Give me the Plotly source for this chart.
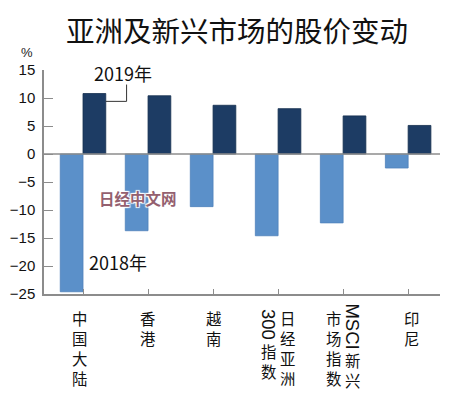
import plotly.graph_objects as go

# ---- data ----
categories = ["中国大陆", "香港", "越南", "日经亚洲300指数", "MSCI新兴市场指数", "印尼"]
values_2018 = [-24.6, -13.7, -9.4, -14.6, -12.3, -2.5]
values_2019 = [10.8, 10.4, 8.7, 8.1, 6.8, 5.1]
series_names = ["2018年", "2019年"]
# vertical label columns (left to right) for each category
label_columns = [["中国大陆"], ["香港"], ["越南"], ["300指数", "日经亚洲"], ["市场指数", "MSCI新兴"], ["印尼"]]
y_ticks = [-25, -20, -15, -10, -5, 0, 5, 10, 15]
title_text = "亚洲及新兴市场的股价变动"
unit_text = "%"
watermark = "日经中文网"

W, H = 450, 394
ML, MR, MT, MB = 44, 10, 70, 100
PLOT_W = W - ML - MR
PLOT_H = H - MT - MB

def py(ypx):
    return (H - MB - ypx) / PLOT_H

def pxx(xpx):
    return (xpx - ML) / PLOT_W

CJK = "Noto Sans CJK SC, Noto Sans, sans-serif"
NUM = "Liberation Sans Narrow, Arial Narrow, Liberation Sans, Arial, sans-serif"
DARK = "#1d3c64"
LIGHT = "#5b90c9"
AXIS = "#8c8c8c"

x_idx = list(range(len(categories)))

fig = go.Figure()
fig.add_trace(go.Bar(x=x_idx, y=values_2018, name=series_names[0],
                     marker=dict(color=LIGHT, line=dict(color="#4f82bb", width=0.8))))
fig.add_trace(go.Bar(x=x_idx, y=values_2019, name=series_names[1],
                     marker=dict(color=DARK, line=dict(color="#15304f", width=0.8))))

annotations = []
# title
annotations.append(dict(text=title_text, xref="paper", yref="paper", x=pxx(237),
                        y=py(30), xanchor="center", yanchor="middle", showarrow=False,
                        font=dict(family=CJK, size=28.5, color="#111")))
annotations.append(dict(text=unit_text, xref="paper", yref="paper", x=pxx(27),
                        y=py(52), xanchor="center", yanchor="middle", showarrow=False,
                        font=dict(family=NUM, size=13, color="#222")))
# series labels
annotations.append(dict(text=series_names[1], xref="paper", yref="paper", x=pxx(92),
                        y=py(73), xanchor="left", yanchor="middle", showarrow=False,
                        font=dict(family=CJK, size=18, color="#111")))
annotations.append(dict(text=series_names[0], xref="paper", yref="paper", x=pxx(87),
                        y=py(262), xanchor="left", yanchor="middle", showarrow=False,
                        font=dict(family=CJK, size=18, color="#111")))
# watermark
annotations.append(dict(text="<b>" + watermark + "</b>", xref="paper", yref="paper",
                        x=pxx(138), y=py(198), xanchor="center", yanchor="middle",
                        showarrow=False,
                        font=dict(family=CJK, size=15.5, color="#94606f",
                                  shadow="1px 1px 1px #fff, -1px -1px 1px #fff, 1px -1px 1px #fff, -1px 1px 1px #fff")))

# vertical category labels
FS = 15.4
RFS = 18.5
PITCH = 20
widths = {"0": 0.556, "3": 0.556, "M": 0.833, "S": 0.667, "C": 0.722, "I": 0.278}

def runs(s):
    out = []
    buf_lat, buf_cjk = "", ""
    for ch in s:
        if ord(ch) < 128:
            if buf_cjk:
                out.append(("cjk", buf_cjk)); buf_cjk = ""
            buf_lat += ch
        else:
            if buf_lat:
                out.append(("rot", buf_lat)); buf_lat = ""
            buf_cjk += ch
    if buf_lat:
        out.append(("rot", buf_lat))
    if buf_cjk:
        out.append(("cjk", buf_cjk))
    return out

for i, cols in enumerate(label_columns):
    n = len(cols)
    for j, col in enumerate(cols):
        if n == 1:
            dx = -4 if i == 0 else (3 if i == len(label_columns) - 1 else 0)
        else:
            dx = (j - (n - 1) / 2) * 19
        rr = runs(col)
        if rr[0][0] == "rot":
            ytop = 299 if len(rr[0][1]) > 3 else 305
        else:
            ytop = 306
        for kind, txt in rr:
            if kind == "cjk":
                annotations.append(dict(text="<br>".join(txt), xref="x", yref="paper", x=i, xshift=dx,
                                        y=py(ytop), xanchor="center", yanchor="top", showarrow=False,
                                        borderpad=0,
                                        font=dict(family=CJK, size=FS, color="#111")))
                ytop += PITCH * len(txt)
            else:
                L = sum(widths.get(c, 0.6) for c in txt) * RFS + 3
                annotations.append(dict(text=txt, xref="x", yref="paper", x=i, xshift=dx,
                                        y=py(ytop + 3), xanchor="center", yanchor="top", showarrow=False,
                                        textangle=90, borderpad=0,
                                        font=dict(family=NUM, size=RFS, color="#111")))
                ytop += L

shapes = [
    # zero line
    dict(type="line", xref="paper", yref="y", x0=0, x1=1, y0=0, y1=0,
         line=dict(color=AXIS, width=1.5)),
    # leader line for 2019 label
    dict(type="path", xref="x", yref="y", path="M 0.35,9.4 L 0.67,9.4 L 0.67,12.4",
         line=dict(color="#333", width=1)),
]

fig.update_layout(
    width=W, height=H,
    margin=dict(l=ML, r=MR, t=MT, b=MB, pad=0),
    paper_bgcolor="white", plot_bgcolor="white",
    barmode="group", bargap=0.3, bargroupgap=0,
    showlegend=False,
    annotations=annotations,
    shapes=shapes,
    xaxis=dict(range=[-0.6, 5.49], tickvals=x_idx, showticklabels=False, ticks="inside",
               ticklen=5, tickcolor=AXIS, showline=True, linecolor=AXIS, linewidth=1.5,
               showgrid=False, zeroline=False, fixedrange=True, automargin=False),
    yaxis=dict(range=[-25, 15], tickvals=y_ticks, ticks="inside", ticklen=9, tickcolor=AXIS,
               showline=True, linecolor=AXIS, linewidth=1.5, showgrid=False, zeroline=False,
               tickfont=dict(family=NUM, size=15, color="#111"), ticklabelstandoff=4,
               fixedrange=True, automargin=False),
)

fig.write_html("out.html", config={"displayModeBar": False},
               post_script="document.body.style.margin='0';document.body.style.overflow='hidden';")
